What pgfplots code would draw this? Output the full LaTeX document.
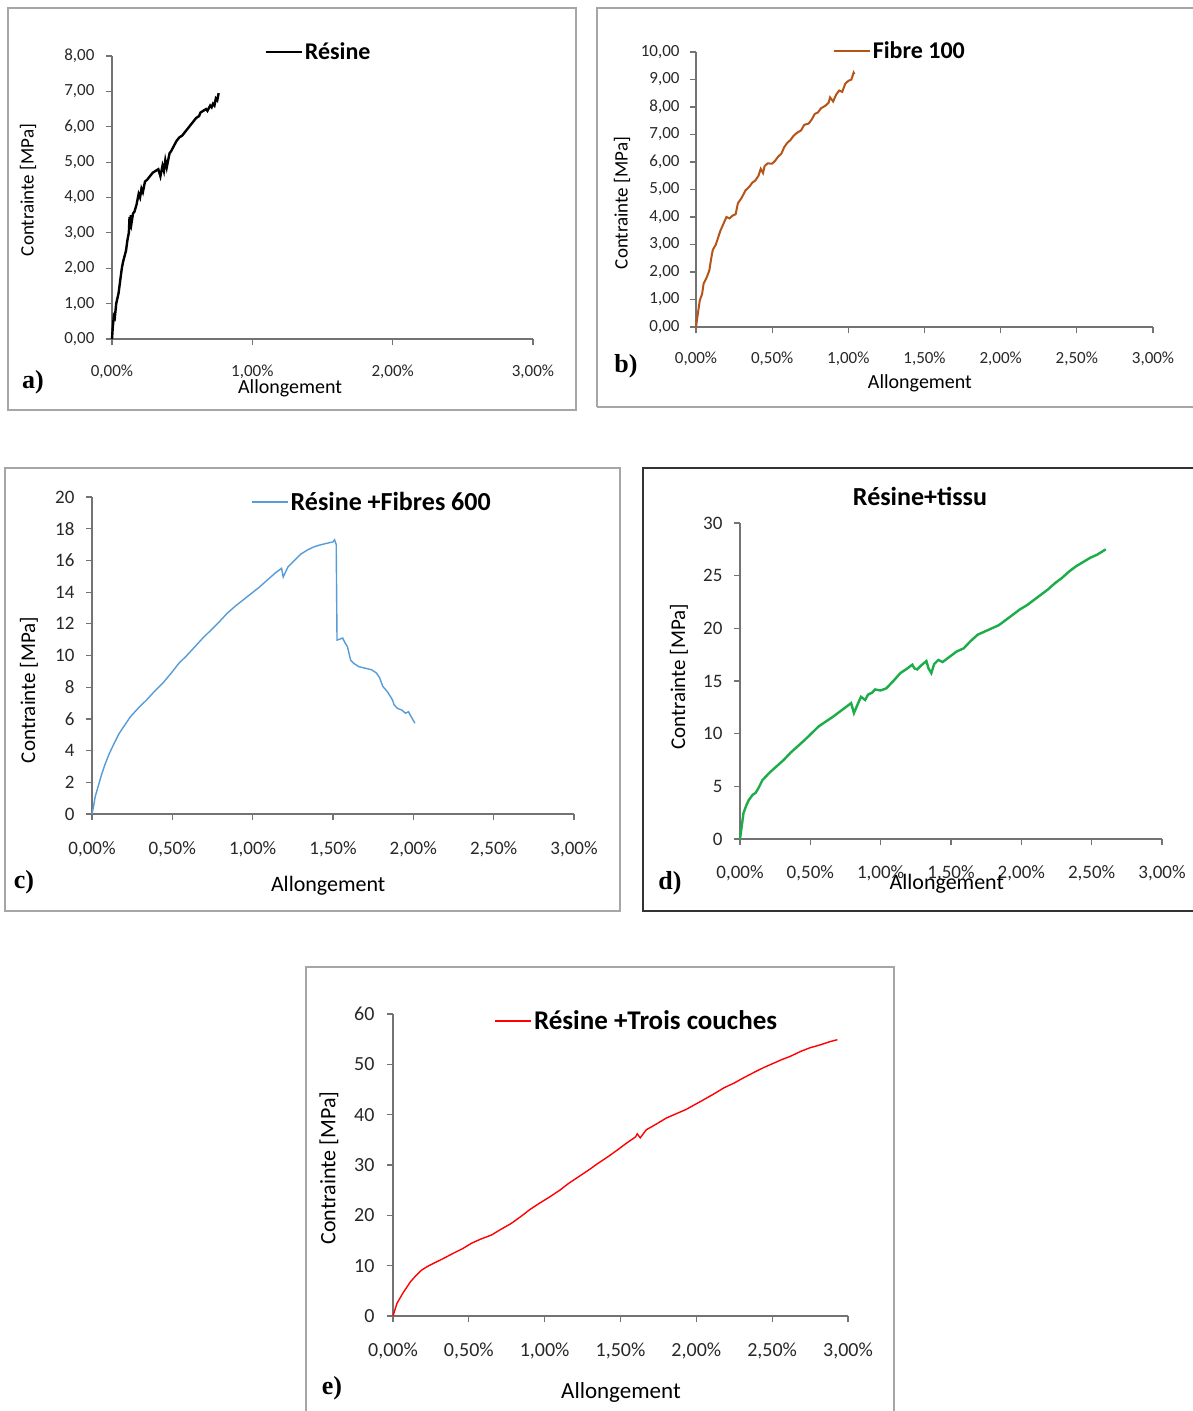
\documentclass[border=0pt]{standalone}
\usepackage{pgfplots}
\pgfplotsset{compat=1.18}
\usepackage{fontspec}
\setmainfont{Carlito}
\newfontfamily\serifb{Liberation Serif}
\definecolor{brownc}{RGB}{182,84,24}
\definecolor{bluec}{RGB}{86,156,216}
\definecolor{greenc}{RGB}{28,172,72}
\definecolor{txt}{RGB}{40,40,40}
\newcommand{\fs}[1]{\fontsize{#1}{#1}\selectfont}
\pgfplotsset{
  base/.style={scale only axis, axis x line=bottom, axis y line=left,
    axis line style={-, draw=black!55, line width=1.2pt},
    tick align=outside, major tick length=6pt,
    tick style={draw=black!55, line width=1.2pt},
    xmin=0, xmax=3, ymin=0, clip=false, anchor=south west,
    every tick label/.append style={text=txt},
    legend style={draw=none, fill=none, anchor=center, text=black},
    legend cell align=left},
  lg/.style={legend image code/.code={\draw[##1] (0pt,0pt)--(36pt,0pt);}},
}
\begin{document}
\begin{tikzpicture}
\path[use as bounding box] (0pt,0pt) rectangle (1192pt,-1411pt);
\fill[white] (0pt,0pt) rectangle (1192pt,-1411pt);
% frames
\draw[black!35, line width=1.5pt] (8pt,-8pt) rectangle (576pt,-410pt);
\draw[black!35, line width=1.5pt] (597pt,-407pt) -- (597pt,-8pt) -- (1195pt,-8pt);
\draw[black!35, line width=1.5pt] (1195pt,-407pt) -- (597pt,-407pt);
\draw[black!35, line width=1.5pt] (5pt,-468pt) rectangle (620pt,-911pt);
\draw[black!80, line width=2.5pt] (1195pt,-468pt) -- (643pt,-468pt) -- (643pt,-911pt) -- (1195pt,-911pt);
\draw[black!35, line width=1.5pt] (306pt,-1415pt) -- (306pt,-967pt) -- (894pt,-967pt) -- (894pt,-1415pt);

% ---------------- a)
\begin{axis}[base, lg, at={(112pt,-339pt)}, width=421pt, height=283pt, ymax=8,
  xtick={0,1,2,3}, xticklabels={{0,00\%},{1,00\%},{2,00\%},{3,00\%}},
  ytick={0,1,2,3,4,5,6,7,8}, yticklabels={{0,00},{1,00},{2,00},{3,00},{4,00},{5,00},{6,00},{7,00},{8,00}},
  xticklabel style={font=\fs{17}, anchor=center, yshift=-27pt},
  yticklabel style={font=\fs{17}, anchor=east, xshift=-8pt},
  xlabel={Allongement}, ylabel={Contrainte [MPa]},
  xlabel style={font=\fs{20}, at={(axis description cs:0.423,-0.173)}, anchor=center},
  ylabel style={font=\fs{19}, at={(axis description cs:-0.1995,0.5265)}, anchor=center},
  legend style={at={(axis description cs:0.4905,1.014)}, font=\bfseries\fs{24}}]
\addplot[black, line width=2.4pt] coordinates {
(0,0) (0.005,0.3) (0.013,0.65) (0.02,0.6) (0.03,1.0) (0.047,1.3) (0.06,1.7) (0.07,2.0)
(0.08,2.2) (0.09,2.35) (0.1,2.5) (0.11,2.8) (0.12,3.0) (0.125,3.45) (0.13,3.1) (0.135,3.5)
(0.14,3.3) (0.15,3.55) (0.16,3.6) (0.175,3.8) (0.19,4.1) (0.2,4.0) (0.21,4.25) (0.22,4.15)
(0.235,4.45) (0.25,4.5) (0.27,4.6) (0.29,4.7) (0.31,4.75) (0.33,4.8) (0.345,4.6) (0.36,4.9)
(0.37,4.75) (0.38,5.05) (0.39,4.85) (0.41,5.25) (0.42,5.3) (0.44,5.45) (0.46,5.6) (0.48,5.7)
(0.5,5.75) (0.52,5.85) (0.54,5.95) (0.56,6.05) (0.58,6.15) (0.6,6.25) (0.62,6.3) (0.63,6.4)
(0.65,6.45) (0.67,6.5) (0.68,6.45) (0.7,6.6) (0.71,6.55) (0.72,6.65) (0.73,6.6) (0.74,6.8)
(0.75,6.75) (0.76,6.95)};
\addlegendentry{Résine}
\end{axis}
\node[font=\serifb\bfseries\fs{26}, text=black] at (33pt,-382pt) {a)};

% ---------------- b)
\begin{axis}[base, lg, at={(696pt,-327pt)}, width=457pt, height=275pt, ymax=10,
  xtick={0,0.5,1,1.5,2,2.5,3}, xticklabels={{0,00\%},{0,50\%},{1,00\%},{1,50\%},{2,00\%},{2,50\%},{3,00\%}},
  ytick={0,1,2,3,4,5,6,7,8,9,10}, yticklabels={{0,00},{1,00},{2,00},{3,00},{4,00},{5,00},{6,00},{7,00},{8,00},{9,00},{10,00}},
  xticklabel style={font=\fs{17}, anchor=center, yshift=-26pt},
  yticklabel style={font=\fs{17}, anchor=east, xshift=-7pt},
  xlabel={Allongement}, ylabel={Contrainte [MPa]},
  xlabel style={font=\fs{20}, at={(axis description cs:0.49,-0.2036)}, anchor=center},
  ylabel style={font=\fs{19}, at={(axis description cs:-0.162,0.451)}, anchor=center},
  legend style={at={(axis description cs:0.446,1.0036)}, font=\bfseries\fs{24}}]
\addplot[brownc, line width=2pt] coordinates {
(0,0) (0.01,0.4) (0.025,0.97) (0.04,1.2) (0.05,1.58) (0.07,1.8) (0.0875,2.06) (0.1,2.5)
(0.11,2.8) (0.13,3.0) (0.16,3.5) (0.18,3.75) (0.2,4.0) (0.22,3.95) (0.24,4.05) (0.26,4.1)
(0.275,4.5) (0.3,4.7) (0.325,4.97) (0.35,5.1) (0.37,5.25) (0.39,5.33) (0.41,5.5) (0.425,5.75)
(0.44,5.6) (0.45,5.85) (0.47,5.95) (0.5,5.94) (0.52,6.05) (0.54,6.2) (0.56,6.3) (0.58,6.55)
(0.6,6.7) (0.62,6.8) (0.64,6.95) (0.66,7.05) (0.69,7.15) (0.71,7.35) (0.74,7.4) (0.76,7.55)
(0.78,7.75) (0.8,7.8) (0.82,7.95) (0.85,8.05) (0.87,8.15) (0.88,8.35) (0.9,8.2) (0.92,8.45)
(0.94,8.6) (0.96,8.55) (0.98,8.85) (1.0,8.95) (1.02,9.0) (1.035,9.25) (1.04,9.2)};
\addlegendentry{Fibre 100}
\end{axis}
\node[font=\serifb\bfseries\fs{26}, text=black] at (626pt,-366pt) {b)};

% ---------------- c)
\begin{axis}[base, lg, at={(92pt,-814pt)}, width=482pt, height=317pt, ymax=20,
  xtick={0,0.5,1,1.5,2,2.5,3}, xticklabels={{0,00\%},{0,50\%},{1,00\%},{1,50\%},{2,00\%},{2,50\%},{3,00\%}},
  ytick={0,2,4,6,8,10,12,14,16,18,20},
  yticklabel style={font=\fs{19}, anchor=east, xshift=-8pt, /pgf/number format/assume math mode=true},
  xticklabel style={font=\fs{19}, anchor=center, yshift=-29pt},
  xlabel={Allongement}, ylabel={Contrainte [MPa]},
  xlabel style={font=\fs{22}, at={(axis description cs:0.49,-0.227)}, anchor=center},
  ylabel style={font=\fs{21}, at={(axis description cs:-0.131,0.391)}, anchor=center},
  legend style={at={(axis description cs:0.581,0.984)}, font=\bfseries\fs{26}}]
\addplot[bluec, line width=1.4pt] coordinates {
(0,0) (0.01,0.5) (0.02,1.1) (0.04,1.8) (0.057,2.4) (0.08,3.1) (0.107,3.8) (0.14,4.5)
(0.17,5.1) (0.2,5.55) (0.24,6.15) (0.29,6.7) (0.34,7.2) (0.39,7.75) (0.44,8.25) (0.49,8.85)
(0.54,9.5) (0.59,10.0) (0.64,10.55) (0.69,11.1) (0.74,11.6) (0.79,12.1) (0.84,12.65) (0.89,13.1)
(0.94,13.5) (0.99,13.9) (1.04,14.3) (1.09,14.75) (1.14,15.2) (1.18,15.5) (1.19,14.95) (1.22,15.6)
(1.26,16.0) (1.3,16.4) (1.34,16.65) (1.38,16.85) (1.41,16.95) (1.45,17.05) (1.5,17.17) (1.51,17.3)
(1.52,17.0) (1.525,10.97) (1.56,11.1) (1.575,10.8) (1.59,10.55) (1.61,9.7) (1.63,9.5) (1.66,9.3)
(1.7,9.2) (1.74,9.1) (1.77,8.9) (1.79,8.6) (1.81,8.05) (1.84,7.7) (1.87,7.2) (1.88,6.9)
(1.9,6.67) (1.93,6.55) (1.95,6.36) (1.97,6.45) (1.98,6.25) (2.0,5.9) (2.01,5.73)};
\addlegendentry{Résine +Fibres 600}
\end{axis}
\node[font=\serifb\bfseries\fs{26}, text=black] at (24pt,-882pt) {c)};

% ---------------- d)
\begin{axis}[base, at={(740pt,-839pt)}, width=422pt, height=316pt, ymax=30,
  xtick={0,0.5,1,1.5,2,2.5,3}, xticklabels={{0,00\%},{0,50\%},{1,00\%},{1,50\%},{2,00\%},{2,50\%},{3,00\%}},
  ytick={0,5,10,15,20,25,30},
  yticklabel style={font=\fs{19}, anchor=east, xshift=-8pt, /pgf/number format/assume math mode=true},
  xticklabel style={font=\fs{19}, anchor=center, yshift=-28pt},
  xlabel={Allongement}, ylabel={Contrainte [MPa]},
  xlabel style={font=\fs{22}, at={(axis description cs:0.49,-0.142)}, anchor=center},
  ylabel style={font=\fs{21}, at={(axis description cs:-0.1445,0.513)}, anchor=center},
  title={Résine+tissu},
  title style={font=\bfseries\fs{26}, at={(axis description cs:0.4265,1.066)}, anchor=center}]
\addplot[greenc, line width=2.4pt] coordinates {
(0,0) (0.01,1.0) (0.025,2.47) (0.045,3.2) (0.0625,3.7) (0.09,4.2) (0.11,4.37) (0.13,4.8)
(0.16,5.6) (0.21,6.3) (0.26,6.9) (0.31,7.5) (0.36,8.2) (0.41,8.8) (0.46,9.4) (0.51,10.05)
(0.56,10.7) (0.61,11.15) (0.66,11.6) (0.71,12.1) (0.76,12.6) (0.79,12.9) (0.81,11.96) (0.84,12.9)
(0.86,13.5) (0.89,13.2) (0.91,13.7) (0.94,13.9) (0.96,14.2) (1.0,14.1) (1.04,14.3) (1.09,15.0)
(1.14,15.75) (1.19,16.2) (1.225,16.55) (1.24,16.2) (1.26,16.1) (1.29,16.5) (1.325,16.9) (1.34,16.2)
(1.36,15.75) (1.38,16.6) (1.41,17.0) (1.44,16.8) (1.49,17.3) (1.54,17.8) (1.59,18.1) (1.64,18.8)
(1.69,19.4) (1.74,19.7) (1.79,20.0) (1.84,20.3) (1.89,20.8) (1.94,21.3) (1.99,21.8) (2.04,22.2)
(2.09,22.7) (2.14,23.2) (2.19,23.7) (2.24,24.3) (2.29,24.8) (2.34,25.4) (2.39,25.9) (2.44,26.3)
(2.49,26.7) (2.54,27.0) (2.6,27.5)};
\end{axis}
\node[font=\serifb\bfseries\fs{26}, text=black] at (670pt,-883pt) {d)};

% ---------------- e)
\begin{axis}[base, lg, at={(393pt,-1316pt)}, width=455pt, height=302pt, ymax=60,
  xtick={0,0.5,1,1.5,2,2.5,3}, xticklabels={{0,00\%},{0,50\%},{1,00\%},{1,50\%},{2,00\%},{2,50\%},{3,00\%}},
  ytick={0,10,20,30,40,50,60},
  yticklabel style={font=\fs{20}, anchor=east, xshift=-9pt, /pgf/number format/assume math mode=true},
  xticklabel style={font=\fs{20}, anchor=center, yshift=-29pt},
  xlabel={Allongement}, ylabel={Contrainte [MPa]},
  xlabel style={font=\fs{23}, at={(axis description cs:0.501,-0.252)}, anchor=center},
  ylabel style={font=\fs{22}, at={(axis description cs:-0.1407,0.49)}, anchor=center},
  legend style={at={(axis description cs:0.536,0.977)}, font=\bfseries\fs{27}}]
\addplot[red, line width=1.4pt] coordinates {
(0,0) (0.026,2.5) (0.064,4.5) (0.115,6.8) (0.15,8.0) (0.19,9.15) (0.23,9.9) (0.27,10.5)
(0.33,11.4) (0.4,12.5) (0.46,13.4) (0.52,14.5) (0.58,15.3) (0.65,16.1) (0.71,17.2) (0.78,18.4)
(0.84,19.7) (0.9,21.1) (0.96,22.3) (1.03,23.6) (1.1,25.0) (1.16,26.4) (1.22,27.6) (1.29,29.0)
(1.35,30.3) (1.42,31.7) (1.48,33.0) (1.54,34.35) (1.6,35.6) (1.61,36.2) (1.63,35.4) (1.67,37.0)
(1.74,38.2) (1.8,39.3) (1.86,40.1) (1.93,41.0) (1.99,42.0) (2.05,43.0) (2.12,44.2) (2.18,45.3)
(2.25,46.3) (2.31,47.3) (2.38,48.4) (2.44,49.3) (2.5,50.1) (2.56,50.9) (2.62,51.6) (2.69,52.6)
(2.75,53.3) (2.82,53.9) (2.88,54.5) (2.93,54.9)};
\addlegendentry{Résine +Trois couches}
\end{axis}
\node[font=\serifb\bfseries\fs{26}, text=black] at (332pt,-1388pt) {e)};
\end{tikzpicture}
\end{document}
